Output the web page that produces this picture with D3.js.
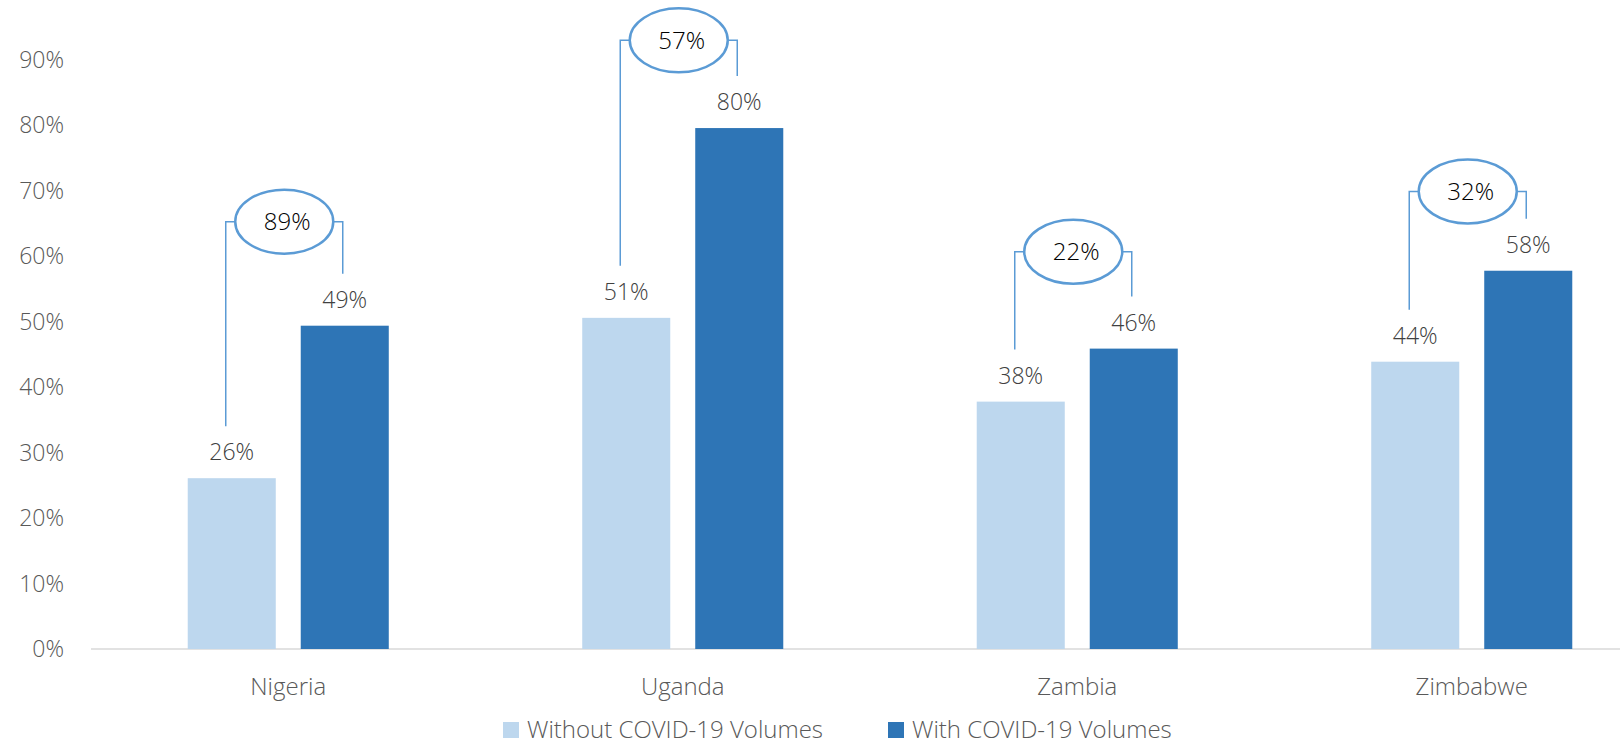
<!DOCTYPE html>
<html>
<head>
<meta charset="utf-8">
<script src="https://cdn.jsdelivr.net/npm/d3@7"></script>
<style>
  body { margin: 0; background: #fff; }
  svg text { font-family: "Open Sans", sans-serif; font-weight: 300; }
</style>
</head>
<body>
<div id="chart"></div>
<script>
(function () {
    // Set dimensions
    const width = 1620;
    const height = 746;

    // Data
    const countries = ["Nigeria", "Uganda", "Zambia", "Zimbabwe"];
    const seriesNames = ["Without COVID-19 Volumes", "With COVID-19 Volumes"];
    const withoutCovid = [0.261, 0.506, 0.378, 0.439];
    const withCovid = [0.494, 0.796, 0.459, 0.578];
    // percentage increase shown in the bubbles
    const increase = [0.89, 0.57, 0.22, 0.32];
    // level (in axis units) at which each bracket sits
    const bracketLevel = [0.653, 0.93, 0.607, 0.699];
    const yTicks = [0, 0.1, 0.2, 0.3, 0.4, 0.5, 0.6, 0.7, 0.8, 0.9];

    const colors = ["#BDD7EE", "#2E75B6"];
    const calloutColor = "#5B9BD5";

    const svg = d3.select("#chart")
        .append("svg")
        .attr("width", width)
        .attr("height", height);

    // Scales
    const x0 = d3.scaleBand()
        .domain(countries)
        .range([91, 91 + 4 * 394.5])
        .padding(0);

    const x1 = d3.scaleBand()
        .domain(seriesNames)
        .range([0, x0.bandwidth()])
        .paddingInner(0.221)
        .paddingOuter(0.856);

    const y = d3.scaleLinear()
        .domain([0, 0.9])
        .range([649, 60]);

    const fmt = d3.format(".0%");

    // Y axis labels
    svg.append("g")
        .selectAll("text")
        .data(yTicks)
        .enter()
        .append("text")
        .attr("x", 64)
        .attr("y", d => y(d))
        .attr("dy", "0.35em")
        .attr("text-anchor", "end")
        .style("font-size", "23px")
        .style("fill", "#595959")
        .text(fmt);

    // Baseline
    svg.append("line")
        .attr("x1", 91)
        .attr("x2", width)
        .attr("y1", y(0))
        .attr("y2", y(0))
        .style("stroke", "#D9D9D9")
        .style("stroke-width", 1.5);

    // Rows of bar data
    const rows = countries.map((c, i) => ({
        country: c,
        values: [
            { series: seriesNames[0], value: withoutCovid[i] },
            { series: seriesNames[1], value: withCovid[i] }
        ],
        increase: increase[i],
        level: bracketLevel[i]
    }));

    const group = svg.append("g")
        .selectAll("g")
        .data(rows)
        .enter()
        .append("g")
        .attr("transform", d => `translate(${x0(d.country)},0)`);

    group.selectAll("rect")
        .data(d => d.values)
        .enter()
        .append("rect")
        .attr("x", d => x1(d.series))
        .attr("width", x1.bandwidth())
        .attr("y", d => y(d.value))
        .attr("height", d => y(0) - y(d.value))
        .style("fill", (d, i) => colors[i]);

    // Value labels
    group.selectAll("text.value")
        .data(d => d.values)
        .enter()
        .append("text")
        .attr("class", "value")
        .attr("x", d => x1(d.series) + x1.bandwidth() / 2)
        .attr("y", d => y(d.value) - 26)
        .attr("dy", "0.35em")
        .attr("text-anchor", "middle")
        .style("font-size", "23px")
        .style("fill", "#404040")
        .text(d => fmt(d.value));

    // Callout brackets
    const rx = 49, ry = 32;
    group.each(function (d) {
        const g = d3.select(this);
        const lx = x1(seriesNames[0]) + x1.bandwidth() / 2 - 6;
        const rxPos = x1(seriesNames[1]) + x1.bandwidth() / 2 - 2;
        const cx = (lx + rxPos) / 2;
        const cy = y(d.level);
        const leftEnd = y(d.values[0].value) - 26 - 26;
        const rightEnd = y(d.values[1].value) - 26 - 26;

        g.append("path")
            .attr("d", `M${lx},${leftEnd}V${cy}H${cx - rx}`)
            .style("fill", "none")
            .style("stroke", calloutColor)
            .style("stroke-width", 1.5);

        g.append("path")
            .attr("d", `M${cx + rx},${cy}H${rxPos}V${rightEnd}`)
            .style("fill", "none")
            .style("stroke", calloutColor)
            .style("stroke-width", 1.5);

        g.append("ellipse")
            .attr("cx", cx)
            .attr("cy", cy)
            .attr("rx", rx)
            .attr("ry", ry)
            .style("fill", "#fff")
            .style("stroke", calloutColor)
            .style("stroke-width", 2.5);

        g.append("text")
            .attr("x", cx + 3)
            .attr("y", cy)
            .attr("dy", "0.35em")
            .attr("text-anchor", "middle")
            .style("font-size", "24px")
            .style("fill", "#000")
            .text(fmt(d.increase));
    });

    // Category labels
    svg.append("g")
        .selectAll("text")
        .data(countries)
        .enter()
        .append("text")
        .attr("x", d => x0(d) + x0.bandwidth() / 2)
        .attr("y", 687)
        .attr("dy", "0.35em")
        .attr("text-anchor", "middle")
        .style("font-size", "24px")
        .style("fill", "#595959")
        .text(d => d);

    // Legend
    const legendX = [503, 888];
    const legend = svg.append("g")
        .selectAll("g")
        .data(seriesNames)
        .enter()
        .append("g")
        .attr("transform", (d, i) => `translate(${legendX[i]},722)`);

    legend.append("rect")
        .attr("width", 16)
        .attr("height", 16)
        .style("fill", (d, i) => colors[i]);

    legend.append("text")
        .attr("x", 24)
        .attr("y", 8)
        .attr("dy", "0.35em")
        .style("font-size", "24px")
        .style("fill", "#595959")
        .text(d => d);
})();
</script>
</body>
</html>
